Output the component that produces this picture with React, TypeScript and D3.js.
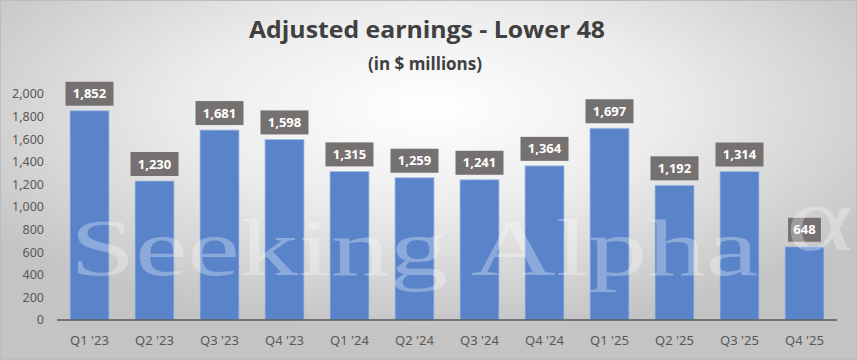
import React from "react";
import * as d3 from "d3";

const categories = ["Q1 '23", "Q2 '23", "Q3 '23", "Q4 '23", "Q1 '24", "Q2 '24", "Q3 '24", "Q4 '24", "Q1 '25", "Q2 '25", "Q3 '25", "Q4 '25"];
const values = [1852, 1230, 1681, 1598, 1315, 1259, 1241, 1364, 1697, 1192, 1314, 648];
const yTicks = [0, 200, 400, 600, 800, 1000, 1200, 1400, 1600, 1800, 2000];
const title = "Adjusted earnings - Lower 48";
const subtitle = "(in $ millions)";

const W = 857, H = 360;
const left = 57, right = 837, top = 94, bottom = 320;

export default function App() {
  const x = d3.scaleBand<string>().domain(categories).range([left, right]).paddingInner(0.4).paddingOuter(0.2);
  const y = d3.scaleLinear().domain([0, 2000]).range([bottom, top]);
  const fmt = d3.format(",");
  const titleFont = "'Open Sans', 'Noto Sans', sans-serif";
  const tickFont = "'Noto Sans', 'Open Sans', sans-serif";
  const serif = "'Liberation Serif', 'DejaVu Serif', serif";
  return (
    <svg width={W} height={H} style={{ position: "absolute", left: 0, top: 0 }} xmlns="http://www.w3.org/2000/svg">
      <defs>
        <radialGradient id="bg" cx="0.5" cy="0.3" r="0.62" gradientUnits="objectBoundingBox">
          <stop offset="0" stopColor="#ffffff" />
          <stop offset="0.45" stopColor="#ececec" />
          <stop offset="1" stopColor="#c4c4c4" />
        </radialGradient>
      </defs>
      <rect x={0} y={0} width={W} height={H} fill="url(#bg)" />
      <rect x={0.5} y={0.5} width={W - 1} height={H - 1} fill="none" stroke="#bdbdbd" />
      <text x={427} y={38} textAnchor="middle" fontFamily={titleFont} fontWeight={700} fontSize={24} fill="#404040" textLength={356} lengthAdjust="spacingAndGlyphs">{title}</text>
      <text x={425} y={70} textAnchor="middle" fontFamily={titleFont} fontWeight={700} fontSize={17} fill="#404040" textLength={114} lengthAdjust="spacingAndGlyphs">{subtitle}</text>
      {yTicks.map((t) => (
        <text key={t} x={44} y={y(t)} dy="0.35em" textAnchor="end" fontFamily={tickFont} fontSize={12.5} fill="#595959">{fmt(t)}</text>
      ))}
      {categories.map((c, i) => (
        <rect key={c} x={x(c)!} y={y(values[i])} width={x.bandwidth()} height={bottom - y(values[i])} fill="#5a84ca" stroke="#a8bfe6" strokeWidth={0.8} />
      ))}
      <line x1={left} x2={right} y1={bottom} y2={bottom} stroke="#595959" strokeWidth={1.5} />
      {categories.map((c) => (
        <text key={c} x={x(c)! + x.bandwidth() / 2} y={345} textAnchor="middle" fontFamily={tickFont} fontSize={13} fill="#595959">{c}</text>
      ))}
      {categories.map((c, i) => {
        const label = fmt(values[i]);
        const w = label.length * 7.6 + 10;
        const cx = x(c)! + x.bandwidth() / 2;
        const by = y(values[i]) - 5;
        return (
          <g key={c}>
            <rect x={cx - w / 2} y={by - 24} width={w} height={24} fill="#767171" />
            <text x={cx} y={by - 12} dy="0.35em" textAnchor="middle" fontFamily={titleFont} fontWeight={700} fontSize={13} fill="#ffffff">{label}</text>
          </g>
        );
      })}
      <text x={70} y={275} fontFamily={serif} fontSize={80} fill="#ffffff" fillOpacity={0.3} textLength={688} lengthAdjust="spacingAndGlyphs">Seeking Alpha</text>
      <text x={0} y={0} transform="translate(786,250) scale(1.4,1)" fontFamily={serif} fontSize={92} fill="#ffffff" fillOpacity={0.3}>α</text>
    </svg>
  );
}
